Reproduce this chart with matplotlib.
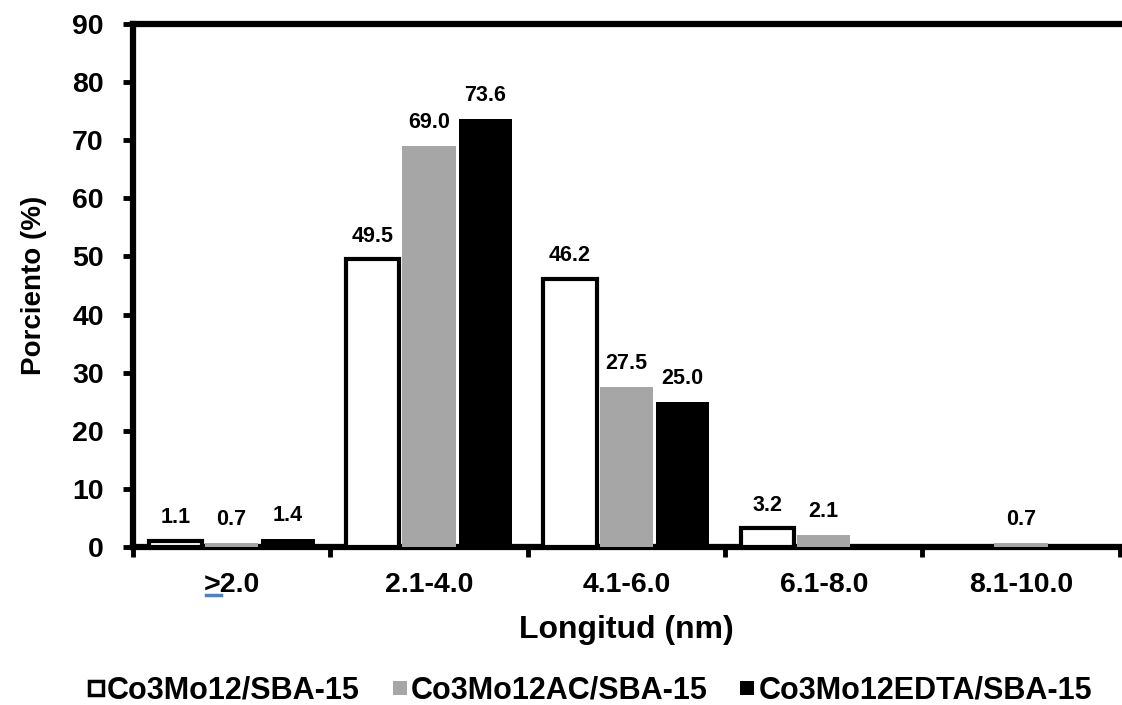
import matplotlib
matplotlib.use("Agg")
import matplotlib.pyplot as plt
from matplotlib.lines import Line2D
import numpy as np

plt.rcParams['font.family'] = ['Liberation Sans', 'DejaVu Sans']
plt.rcParams['font.weight'] = 'bold'

categories = [">2.0", "2.1-4.0", "4.1-6.0", "6.1-8.0", "8.1-10.0"]
series_names = ["Co3Mo12/SBA-15", "Co3Mo12AC/SBA-15", "Co3Mo12EDTA/SBA-15"]
co3mo12 = [1.1, 49.5, 46.2, 3.2, None]
co3mo12_ac = [0.7, 69.0, 27.5, 2.1, 0.7]
co3mo12_edta = [1.4, 73.6, 25.0, None, None]

series = [co3mo12, co3mo12_ac, co3mo12_edta]
faces = ["white", "#a6a6a6", "black"]
edges = ["black", "#a6a6a6", "black"]
edge_w = [3.0, 0, 0]

fig = plt.figure(figsize=(11.22, 7.05), dpi=100)
ax = fig.add_axes([0.1185, 0.2241, 0.8795, 0.7419])

x = np.arange(len(categories))
width = 0.27
offset = 0.285

for i, (vals, fc, ec, lw) in enumerate(zip(series, faces, edges, edge_w)):
    pos = x + (i - 1) * offset
    for p, v in zip(pos, vals):
        if v is None:
            continue
        ax.bar(p, v, width=width, facecolor=fc, edgecolor=ec, linewidth=lw,
               zorder=3)
        ax.text(p, v + 2.2, f"{v:.1f}", ha="center", va="bottom",
                fontsize=15.5, fontweight="bold", zorder=4)

ax.set_xlim(-0.5, len(categories) - 0.5)
ax.set_ylim(0, 90)
ax.set_yticks(np.arange(0, 91, 10))
ax.set_xticks(np.arange(-0.5, len(categories), 1.0))
ax.set_xticklabels([])
ax.set_xticks(x, minor=True)
ax.set_xticklabels(categories, minor=True)

ax.tick_params(axis="x", which="major", direction="out", length=7, width=3.5)
ax.tick_params(axis="x", which="minor", length=0, pad=18, labelsize=20.5)
ax.tick_params(axis="y", direction="out", length=7, width=3.5, pad=14,
               labelsize=20.5)

for side in ["left", "top", "bottom"]:
    ax.spines[side].set_linewidth(4.5)
ax.spines["right"].set_visible(False)

ax.set_ylabel("Porciento (%)", fontsize=20, fontweight="bold", labelpad=18)
ax.set_xlabel("Longitud (nm)", fontsize=23, fontweight="bold", labelpad=12)

# blue underline below the ">" sign of the first category label
fig.add_artist(Line2D([206 / 1122, 221 / 1122], [1 - 595 / 705, 1 - 595 / 705],
                      transform=fig.transFigure, color="#4f81bd", lw=2.5))

handles = [Line2D([], [], marker="s", linestyle="none", markersize=10.5,
                  markerfacecolor=fc, markeredgecolor=("black" if i == 0 else fc),
                  markeredgewidth=(2.5 if i == 0 else 0))
           for i, fc in enumerate(faces)]
fig.legend(handles, series_names, loc="center", bbox_to_anchor=(0.526, 0.02),
           ncol=3, frameon=False, handlelength=0.5,
           handletextpad=0.12, columnspacing=1.05, borderaxespad=0,
           prop={"weight": "bold", "size": 22})

fig.savefig("out.png", dpi=100)
